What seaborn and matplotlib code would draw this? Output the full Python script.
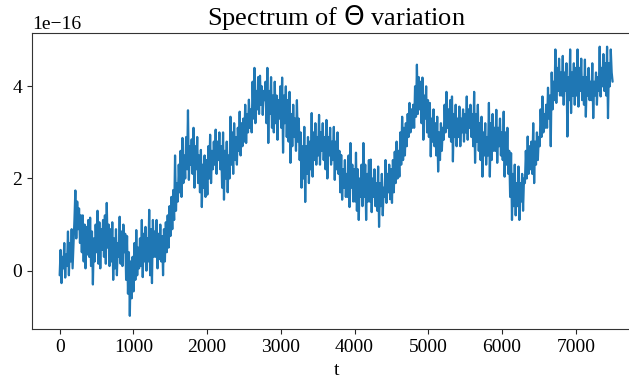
import matplotlib
matplotlib.use("Agg")
import matplotlib.pyplot as plt
import numpy as np
import seaborn as sns

# values, in units of 1e-16, eight samples per 100 steps
theta_spec = [
    -0.10, 0.45, -0.27, 0.30, 0.05, 0.60, -0.15, 0.35,
    0.10, 0.85, -0.10, 0.60, 0.20, 0.90, 0.05, 0.55,
    1.10, 1.74, 0.70, 1.50, 0.90, 1.35, 0.60, 1.20,
    0.40, 1.20, 0.20, 1.00, 0.05, 0.95, 0.35, 1.10,
    0.30, 1.15, 0.10, 0.85, -0.30, 0.70, 0.20, 1.00,
    0.40, 1.30, 0.15, 1.05, 0.05, 0.90, 0.45, 1.10,
    0.30, 1.20, 0.15, 1.47, 0.50, 1.00, 0.10, 0.90,
    0.20, 1.05, -0.20, 0.70, 0.05, 0.90, -0.10, 0.60,
    0.30, 1.17, 0.15, 0.85, 0.10, 1.00, 0.40, 0.80,
    -0.20, 0.75, -0.50, 0.40, -0.98, 0.20, -0.60, 0.30,
    -0.45, 0.60, -0.20, 0.88, -0.10, 0.50, 0.05, 0.70,
    0.10, 1.10, -0.14, 0.80, 0.20, 0.95, 0.00, 0.70,
    0.20, 1.32, -0.10, 0.90, -0.27, 1.10, 0.30, 0.85,
    0.30, 1.10, 0.05, 0.80, 0.25, 1.00, 0.20, 0.75,
    -0.10, 0.90, 0.20, 1.05, 0.40, 1.20, 0.50, 1.40,
    0.75, 1.60, 0.90, 1.75, 1.10, 2.50, 1.30, 1.90,
    1.50, 2.30, 1.70, 2.60, 1.60, 2.88, 1.90, 2.50,
    2.00, 2.90, 2.20, 3.48, 1.97, 2.70, 2.30, 2.85,
    2.10, 3.10, 1.80, 2.70, 2.20, 2.90, 1.90, 2.50,
    1.70, 2.62, 1.38, 2.30, 1.80, 2.50, 1.60, 2.40,
    1.65, 2.70, 2.00, 2.95, 1.90, 2.60, 2.20, 2.80,
    2.30, 3.06, 2.10, 2.80, 2.40, 3.00, 2.20, 2.70,
    1.80, 3.00, 1.54, 2.60, 2.00, 2.80, 1.70, 2.50,
    2.00, 3.34, 2.30, 3.00, 2.10, 3.20, 2.40, 2.90,
    2.30, 3.10, 2.60, 3.45, 2.50, 3.20, 2.70, 3.30,
    2.80, 3.60, 2.77, 3.40, 3.00, 3.71, 3.10, 3.50,
    3.00, 4.10, 3.30, 4.40, 3.20, 3.90, 3.50, 4.20,
    3.40, 4.23, 3.60, 4.00, 3.38, 3.90, 3.70, 4.10,
    3.20, 4.40, 2.77, 3.90, 3.40, 4.20, 3.10, 3.80,
    3.00, 4.10, 3.20, 3.80, 2.84, 3.70, 3.30, 4.00,
    3.10, 4.19, 2.56, 3.80, 3.20, 4.00, 2.90, 3.70,
    2.80, 3.88, 2.34, 3.40, 2.70, 3.60, 2.90, 3.30,
    2.60, 3.70, 2.80, 3.30, 2.40, 3.00, 1.80, 2.70,
    2.00, 3.12, 1.49, 2.70, 2.10, 2.90, 1.90, 2.80,
    2.20, 3.42, 2.04, 3.00, 2.40, 3.20, 2.30, 2.90,
    2.50, 3.38, 2.30, 3.00, 2.60, 3.20, 2.40, 2.90,
    2.20, 3.27, 2.00, 2.90, 2.50, 3.10, 2.30, 2.80,
    2.40, 3.12, 1.97, 2.80, 2.20, 3.00, 2.10, 2.60,
    1.70, 2.51, 1.54, 2.20, 1.80, 2.40, 1.60, 2.10,
    1.60, 2.50, 1.38, 2.77, 1.80, 2.30, 1.50, 2.20,
    1.50, 2.56, 1.30, 2.20, 1.10, 2.00, 1.60, 2.30,
    1.40, 2.77, 1.60, 2.30, 1.10, 2.10, 1.50, 2.40,
    1.50, 2.41, 1.27, 2.00, 1.60, 2.20, 1.40, 1.90,
    1.30, 2.26, 0.95, 1.90, 1.40, 2.10, 1.20, 1.80,
    1.60, 2.40, 1.47, 2.10, 1.70, 2.30, 1.55, 2.20,
    1.47, 2.40, 1.70, 2.58, 1.90, 2.80, 2.00, 2.60,
    2.04, 3.00, 2.30, 3.34, 2.40, 3.10, 2.50, 3.20,
    2.70, 3.40, 2.90, 3.64, 3.00, 3.50, 3.10, 3.60,
    3.10, 4.00, 3.34, 4.47, 3.40, 4.20, 3.50, 4.10,
    3.20, 4.19, 2.84, 3.80, 3.30, 4.00, 3.00, 3.70,
    2.90, 3.64, 2.48, 3.30, 2.80, 3.50, 2.70, 3.20,
    2.50, 3.34, 2.15, 3.00, 2.40, 3.20, 2.60, 3.10,
    2.84, 3.60, 3.00, 3.88, 3.10, 3.50, 2.90, 3.70,
    2.80, 3.78, 2.37, 3.40, 2.90, 3.60, 2.70, 3.30,
    2.90, 3.56, 2.70, 3.30, 3.00, 3.50, 2.80, 3.40,
    3.00, 3.78, 2.84, 3.50, 3.10, 3.60, 2.90, 3.40,
    2.70, 3.88, 2.34, 3.40, 2.80, 3.60, 2.60, 3.20,
    2.40, 3.34, 2.04, 3.00, 2.50, 3.20, 2.30, 2.90,
    2.50, 3.64, 2.04, 3.20, 2.40, 3.40, 2.60, 3.10,
    2.60, 3.49, 2.34, 3.10, 2.70, 3.30, 2.50, 3.00,
    2.40, 3.45, 2.04, 3.00, 2.30, 3.10, 2.10, 2.60,
    1.60, 2.55, 1.10, 2.10, 1.40, 2.30, 1.20, 1.90,
    1.40, 2.26, 1.10, 1.90, 1.50, 2.10, 1.30, 2.00,
    1.90, 2.60, 2.00, 2.91, 2.10, 2.70, 2.20, 2.80,
    2.10, 3.20, 1.90, 2.80, 2.30, 3.00, 2.40, 2.90,
    2.70, 3.50, 2.90, 3.78, 3.00, 3.40, 3.10, 3.60,
    3.10, 3.97, 3.30, 3.80, 2.70, 4.30, 3.50, 4.10,
    3.70, 4.80, 3.64, 4.40, 3.90, 4.60, 3.80, 4.30,
    3.80, 4.66, 3.60, 4.30, 3.90, 4.50, 2.91, 4.20,
    3.70, 4.80, 3.42, 4.30, 3.80, 4.50, 3.60, 4.40,
    3.80, 4.80, 3.56, 4.40, 3.90, 4.60, 3.70, 4.20,
    3.60, 4.58, 3.34, 4.20, 3.80, 4.40, 3.70, 4.10,
    3.70, 4.50, 3.31, 4.10, 3.80, 4.30, 3.60, 4.20,
    3.90, 4.86, 3.78, 4.40, 4.00, 4.70, 3.90, 4.50,
    3.80, 4.86, 3.31, 4.50, 4.00, 4.80, 4.30, 4.10,
]
scale = 1e-16
x_ticks = [0, 1000, 2000, 3000, 4000, 5000, 6000, 7000]
y_ticks = [0, 2, 4]

sns.set_style("ticks")
plt.rcParams["font.family"] = ["Liberation Serif", "DejaVu Serif"]
plt.rcParams["font.size"] = 14
plt.rcParams["axes.edgecolor"] = "0.2"
plt.rcParams["text.color"] = "black"
plt.rcParams["axes.labelcolor"] = "black"
plt.rcParams["xtick.labelcolor"] = "black"
plt.rcParams["ytick.labelcolor"] = "black"

values = np.array(theta_spec) * scale
t = np.linspace(0, 7499, len(values))

fig = plt.figure(figsize=(6.29, 3.82), dpi=100)
# axes runs past the right edge, as in the cropped original
ax = fig.add_axes([0.0509, 0.138, 0.967, 0.775])
sns.lineplot(x=t, y=values, ax=ax, color="#1f77b4", linewidth=1.6, estimator=None)
ax.set_xticks(x_ticks)
ax.set_yticks([v * scale for v in y_ticks])
ax.set_xlabel("t")
ax.set_ylabel("")
ax.set_title(r"Spectrum of $\Theta$ variation", fontsize=19)

fig.savefig("out.png", dpi=100)
